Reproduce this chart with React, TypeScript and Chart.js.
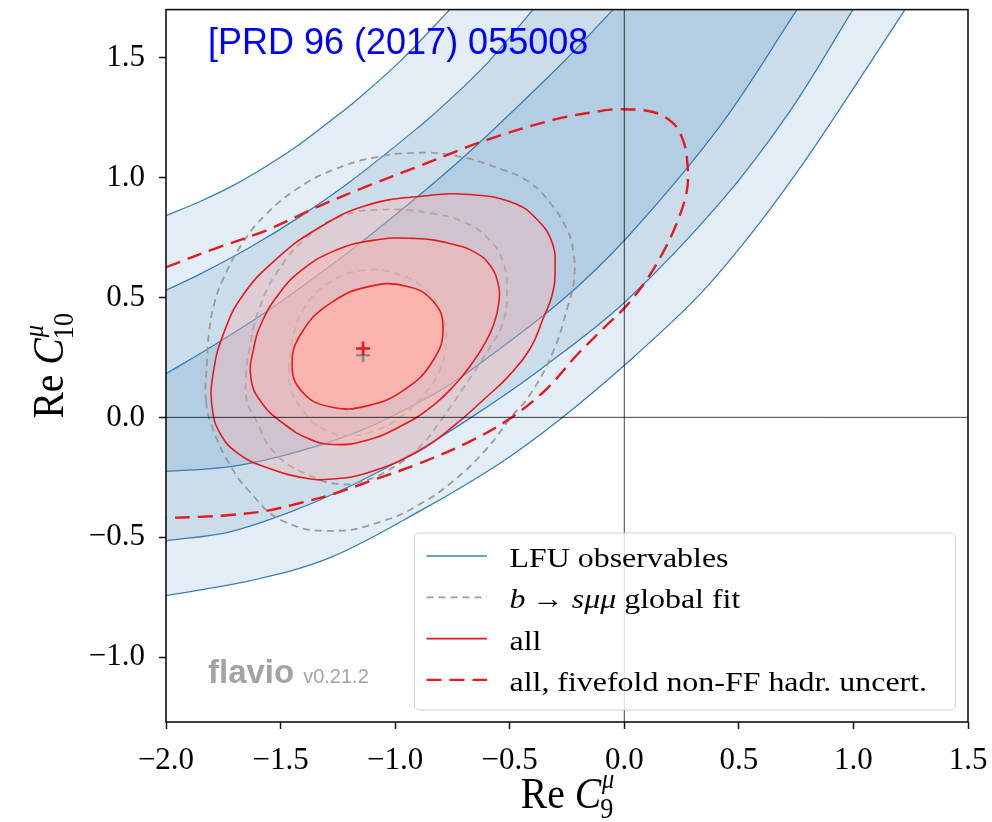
import React, { useEffect, useRef } from "react";
import { Chart, registerables } from "chart.js";

Chart.register(...registerables);

// ---- axes ----
const X_RANGE = [-2.0, 1.5];
const Y_RANGE = [-1.27, 1.7];
const xTicks = [-2.0, -1.5, -1.0, -0.5, 0.0, 0.5, 1.0, 1.5];
const yTicks = [-1.0, -0.5, 0.0, 0.5, 1.0, 1.5];

// ---- LFU observables: 1σ / 2σ / 3σ band edges (Re C9, Re C10) ----
const lfu1Upper = [[-2.0, 0.182], [-1.782, 0.306], [-1.564, 0.439], [-1.345, 0.588], [-1.127, 0.746], [-0.891, 0.929], [-0.691, 1.094], [-0.473, 1.289], [-0.254, 1.493], [-0.049, 1.7]];
const lfu2Upper = [[-2.0, 0.53], [-1.852, 0.597], [-1.633, 0.709], [-1.415, 0.837], [-1.197, 0.982], [-0.891, 1.215], [-0.778, 1.31], [-0.599, 1.476], [-0.398, 1.7]];
const lfu3Upper = [[-2.0, 0.841], [-1.852, 0.9], [-1.708, 0.966], [-1.559, 1.049], [-1.415, 1.14], [-1.284, 1.235], [-1.153, 1.335], [-0.979, 1.484], [-0.761, 1.7]];
const lfu1Lower = [[-2.0, -0.225], [-1.708, -0.204], [-1.42, -0.142], [-1.127, -0.046], [-0.835, 0.095], [-0.691, 0.182], [-0.281, 0.481], [0.012, 0.75], [0.418, 1.215], [0.754, 1.7]];
const lfu2Lower = [[-2.0, -0.515], [-1.721, -0.477], [-1.459, -0.395], [-1.197, -0.287], [-0.891, -0.133], [-0.63, 0.024], [-0.368, 0.199], [0.003, 0.481], [0.418, 0.895], [0.723, 1.277], [0.998, 1.7]];
const lfu3Lower = [[-2.0, -0.743], [-1.633, -0.681], [-1.284, -0.585], [-0.891, -0.39], [-0.542, -0.191], [-0.281, -0.009], [0.003, 0.219], [0.317, 0.5], [0.549, 0.76], [0.767, 1.04], [0.985, 1.35], [1.225, 1.7]];

// ---- b -> s mu mu global fit: 1σ / 2σ / 3σ contours ----
const globalInner = [[-1.463, 0.199], [-1.446, 0.335], [-1.389, 0.468], [-1.284, 0.564], [-1.14, 0.613], [-0.988, 0.597], [-0.865, 0.53], [-0.796, 0.427], [-0.778, 0.315], [-0.804, 0.199], [-0.874, 0.095], [-0.97, 0.008], [-1.084, -0.054], [-1.206, -0.075], [-1.319, -0.046], [-1.406, 0.033], [-1.454, 0.116]];
const globalMiddle = [[-1.647, 0.066], [-1.651, 0.17], [-1.638, 0.273], [-1.594, 0.452], [-1.507, 0.617], [-1.376, 0.758], [-1.228, 0.841], [-1.053, 0.866], [-0.865, 0.854], [-0.695, 0.812], [-0.586, 0.738], [-0.529, 0.647], [-0.512, 0.534], [-0.529, 0.398], [-0.599, 0.273], [-0.704, 0.12], [-0.791, 0.0], [-0.891, -0.121], [-1.022, -0.216], [-1.153, -0.27], [-1.245, -0.278], [-1.345, -0.254], [-1.52, -0.154], [-1.62, 0.012]];
const globalOuter = [[-1.825, 0.066], [-1.821, 0.232], [-1.812, 0.356], [-1.791, 0.468], [-1.751, 0.576], [-1.664, 0.729], [-1.564, 0.846], [-1.42, 0.958], [-1.271, 1.032], [-1.097, 1.082], [-0.909, 1.103], [-0.734, 1.09], [-0.529, 1.032], [-0.411, 0.978], [-0.324, 0.895], [-0.25, 0.783], [-0.224, 0.7], [-0.219, 0.576], [-0.25, 0.452], [-0.311, 0.273], [-0.411, 0.095], [-0.499, -0.005], [-0.599, -0.129], [-0.747, -0.266], [-0.891, -0.361], [-1.053, -0.432], [-1.271, -0.473], [-1.489, -0.432], [-1.638, -0.307], [-1.725, -0.191], [-1.791, -0.058]];

// ---- all observables: 1σ / 2σ / 3σ contours ----
const allInner = [[-0.791, 0.371], [-0.835, 0.236], [-0.956, 0.118], [-1.121, 0.048], [-1.285, 0.044], [-1.406, 0.107], [-1.45, 0.222], [-1.406, 0.356], [-1.285, 0.474], [-1.121, 0.544], [-0.956, 0.548], [-0.835, 0.485]];
const allMiddle = [[-1.629, 0.161], [-1.616, 0.294], [-1.577, 0.406], [-1.511, 0.51], [-1.42, 0.605], [-1.271, 0.692], [-1.097, 0.738], [-0.913, 0.746], [-0.761, 0.725], [-0.651, 0.688], [-0.586, 0.634], [-0.551, 0.559], [-0.547, 0.481], [-0.569, 0.389], [-0.612, 0.302], [-0.669, 0.219], [-0.739, 0.136], [-0.835, 0.049], [-0.97, -0.034], [-1.127, -0.096], [-1.271, -0.113], [-1.38, -0.088], [-1.481, -0.03], [-1.577, 0.054]];
const allOuter = [[-1.799, 0.045], [-1.795, 0.178], [-1.751, 0.344], [-1.664, 0.51], [-1.52, 0.659], [-1.345, 0.783], [-1.127, 0.883], [-0.865, 0.924], [-0.673, 0.929], [-0.486, 0.895], [-0.381, 0.825], [-0.315, 0.729], [-0.302, 0.617], [-0.315, 0.51], [-0.355, 0.41], [-0.411, 0.286], [-0.507, 0.17], [-0.599, 0.087], [-0.747, -0.038], [-0.9, -0.142], [-1.127, -0.233], [-1.289, -0.258], [-1.389, -0.254], [-1.564, -0.208], [-1.686, -0.15], [-1.764, -0.067]];

// ---- all observables, fivefold non-FF hadronic uncertainty: 1σ contour ----
const allFivefold = [[-2.0, 0.626], [-1.782, 0.705], [-1.564, 0.779], [-1.345, 0.875], [-1.127, 0.962], [-0.891, 1.049], [-0.599, 1.157], [-0.311, 1.24], [-0.106, 1.277], [-0.019, 1.285], [0.125, 1.273], [0.213, 1.227], [0.256, 1.157], [0.274, 1.074], [0.274, 0.949], [0.23, 0.812], [0.169, 0.688], [0.099, 0.576], [0.012, 0.468], [-0.093, 0.369], [-0.206, 0.261], [-0.337, 0.12], [-0.499, -0.005], [-0.673, -0.1], [-0.891, -0.191], [-1.11, -0.266], [-1.271, -0.32], [-1.415, -0.357], [-1.564, -0.39], [-1.721, -0.407], [-1.856, -0.415], [-2.0, -0.419]];

// ---- best-fit points ----
const bestFitAll = [[-1.14, 0.287]];
const bestFitGlobal = [[-1.14, 0.259]];

// ---- legend ----
const legendLabels = ["LFU observables", "b → sμμ global fit", "all", "all, fivefold non-FF hadr. uncert."];

const BLUE = "#377eb8";
const RED = "#e41a1c";
const GREY = "#9b9b9b";
const blueFill = (a: number) => `rgba(179,205,227,${a})`;
const redFill = (a: number) => `rgba(251,180,174,${a})`;
const CLEAR = "rgba(0,0,0,0)";
const SERIF = '"Liberation Serif", "Times New Roman", serif';
const SANS = '"Liberation Sans", Arial, sans-serif';
const EDGE_TENSION = 0.35;
const LOOP_TENSION = 0.45;

const pts = (a: number[][]) => a.map(([x, y]) => ({ x, y }));
// closed contour: one extra point on each side so the seam is as smooth as the rest
const wrap = (a: number[][]) => pts([a[a.length - 1], ...a, a[0], a[1]]);
// band between two edges; end points doubled so the outline follows each edge curve exactly
const bandShape = (upper: number[][], lower: number[][]) =>
  pts([...upper, upper[upper.length - 1], lower[lower.length - 1], ...lower.slice().reverse()]);

const fmt = (v: number) => (v < 0 ? "\u2212" : "") + Math.abs(v).toFixed(1);

const area = (data: any[], color: string, tension: number) => ({
  data, showLine: true, fill: "shape", backgroundColor: color, borderColor: CLEAR,
  borderWidth: 1, tension, capBezierPoints: false, pointRadius: 0, pointHoverRadius: 0,
});
const curve = (data: any[], color: string, width: number, dash: number[] = [], tension = EDGE_TENSION) => ({
  data, showLine: true, fill: false, borderColor: color, borderWidth: width, borderDash: dash,
  tension, capBezierPoints: false, pointRadius: 0, pointHoverRadius: 0,
});
const ring = (a: number[][], color: string, width: number, dash: number[] = []) => {
  const data = wrap(a);
  const last = data.length - 1;
  return {
    ...curve(data, color, width, dash, LOOP_TENSION),
    segment: {
      borderColor: (c: any) => (c.p0DataIndex === 0 || c.p1DataIndex === last ? CLEAR : undefined),
    },
  };
};
const marker = (data: any[], color: string) => ({
  data, showLine: false, pointStyle: "cross", pointRadius: 7, pointBorderWidth: 2.6,
  pointBorderColor: color, pointBackgroundColor: color, pointHoverRadius: 7,
});

type Run = { t: string; f: string; dx?: number; dy?: number; stay?: boolean };

function runsWidth(ctx: CanvasRenderingContext2D, runs: Run[]) {
  let w = 0;
  for (const r of runs) {
    ctx.font = r.f;
    if (!r.stay) w += ctx.measureText(r.t).width + (r.dx || 0);
  }
  return w;
}

function drawRuns(ctx: CanvasRenderingContext2D, runs: Run[], x: number, y: number, sx: number) {
  ctx.save();
  ctx.translate(x, y);
  ctx.scale(sx, 1);
  let cx = 0;
  for (const r of runs) {
    ctx.font = r.f;
    const px = cx + (r.dx || 0);
    ctx.fillText(r.t, px, r.dy || 0);
    if (!r.stay) cx = px + ctx.measureText(r.t).width;
  }
  ctx.restore();
}

const axisTitle = (sub: string): Run[] => [
  { t: "Re", f: `44px ${SERIF}` },
  { t: " ", f: `44px ${SERIF}` },
  { t: "C", f: `italic 44px ${SERIF}` },
  { t: "μ", f: `italic 27px ${SERIF}`, dx: 1, dy: -20, stay: true },
  { t: sub, f: `29px ${SERIF}`, dx: -1, dy: 10 },
];

const LEG_SIZE = 28;
const legendRuns: Run[][] = [
  [{ t: legendLabels[0], f: `${LEG_SIZE}px ${SERIF}` }],
  [
    { t: "b", f: `italic ${LEG_SIZE}px ${SERIF}` },
    { t: "\u2009→ ", f: `${LEG_SIZE}px ${SERIF}` },
    { t: "sμμ", f: `italic ${LEG_SIZE}px ${SERIF}` },
    { t: " global fit", f: `${LEG_SIZE}px ${SERIF}` },
  ],
  [{ t: legendLabels[2], f: `${LEG_SIZE}px ${SERIF}` }],
  [{ t: legendLabels[3], f: `${LEG_SIZE}px ${SERIF}` }],
];
const legendHandles = [
  { color: BLUE, width: 1.4, dash: [] as number[] },
  { color: GREY, width: 1.8, dash: [7, 5] },
  { color: RED, width: 1.6, dash: [] as number[] },
  { color: RED, width: 2.4, dash: [15, 8] },
];

const decorations = {
  id: "decorations",
  afterDraw(chart: any) {
    const { ctx, chartArea: a } = chart;
    ctx.save();

    // plot frame
    ctx.strokeStyle = "#111";
    ctx.lineWidth = 1.6;
    ctx.strokeRect(a.left, a.top, a.right - a.left, a.bottom - a.top);

    // reference tag
    ctx.fillStyle = "#0000ff";
    ctx.font = `36px ${SANS}`;
    ctx.textBaseline = "alphabetic";
    ctx.textAlign = "left";
    ctx.fillText("[PRD 96 (2017) 055008", a.left + 42, a.top + 44);

    // flavio tag
    ctx.fillStyle = "#a3a3a3";
    ctx.font = `bold 33px ${SANS}`;
    const fx = a.left + 42;
    const fy = a.bottom - 39;
    ctx.fillText("flavio", fx, fy);
    const fw = ctx.measureText("flavio").width;
    ctx.font = `20px ${SANS}`;
    ctx.fillText("v0.21.2", fx + fw + 9, fy);

    // axis titles
    ctx.fillStyle = "#000";
    const sx = 0.9;
    const xr = axisTitle("9");
    const xw = runsWidth(ctx, xr) * sx;
    drawRuns(ctx, xr, (a.left + a.right) / 2 - xw / 2, a.bottom + 86, sx);
    const yr = axisTitle("10");
    const yw = runsWidth(ctx, yr) * sx;
    ctx.save();
    ctx.translate(a.left - 103, (a.top + a.bottom) / 2);
    ctx.rotate(-Math.PI / 2);
    drawRuns(ctx, yr, -yw / 2, 0, sx);
    ctx.restore();

    // legend
    const lw = 541;
    const lh = 177;
    const lx = a.right - 12.5 - lw;
    const ly = a.bottom - 12 - lh;
    ctx.beginPath();
    ctx.roundRect(lx, ly, lw, lh, 5);
    ctx.fillStyle = "rgba(255,255,255,0.8)";
    ctx.fill();
    ctx.strokeStyle = "rgba(204,204,204,0.9)";
    ctx.lineWidth = 1;
    ctx.stroke();
    legendRuns.forEach((runs, i) => {
      const base = ly + 34 + i * 41.3;
      const h = legendHandles[i];
      ctx.beginPath();
      ctx.setLineDash(h.dash);
      ctx.strokeStyle = h.color;
      ctx.lineWidth = h.width;
      ctx.moveTo(lx + 12, base - 11);
      ctx.lineTo(lx + 72.5, base - 11);
      ctx.stroke();
      ctx.setLineDash([]);
      ctx.fillStyle = "#000";
      drawRuns(ctx, runs, lx + 95, base, 1.14);
    });

    ctx.restore();
  },
};

export default function App() {
  const ref = useRef<HTMLCanvasElement>(null);

  useEffect(() => {
    const datasets: any[] = [
      // LFU bands (3σ, 2σ, 1σ) and their edges
      area(bandShape(lfu3Upper, lfu3Lower), blueFill(0.37), EDGE_TENSION),
      area(bandShape(lfu2Upper, lfu2Lower), blueFill(0.492), EDGE_TENSION),
      area(bandShape(lfu1Upper, lfu1Lower), blueFill(1), EDGE_TENSION),
      curve(pts(lfu3Upper), BLUE, 1.25),
      curve(pts(lfu2Upper), BLUE, 1.25),
      curve(pts(lfu1Upper), BLUE, 1.25),
      curve(pts(lfu1Lower), BLUE, 1.25),
      curve(pts(lfu2Lower), BLUE, 1.25),
      curve(pts(lfu3Lower), BLUE, 1.25),
      // global fit contours
      ring(globalOuter, GREY, 1.8, [7, 5]),
      ring(globalMiddle, GREY, 1.8, [7, 5]),
      ring(globalInner, GREY, 1.8, [7, 5]),
      // all observables: filled regions, then contour lines
      area(wrap(allOuter), redFill(0.37), LOOP_TENSION),
      ring(allOuter, RED, 1.6),
      area(wrap(allMiddle), redFill(0.492), LOOP_TENSION),
      ring(allMiddle, RED, 1.6),
      area(wrap(allInner), redFill(1), LOOP_TENSION),
      ring(allInner, RED, 1.6),
      // fivefold hadronic uncertainty
      curve(pts(allFivefold), RED, 2.4, [15, 8]),
      // zero lines
      curve(pts([[X_RANGE[0], 0], [X_RANGE[1], 0]]), "rgba(0,0,0,0.75)", 1, [], 0),
      curve(pts([[0, Y_RANGE[0]], [0, Y_RANGE[1]]]), "rgba(0,0,0,0.75)", 1, [], 0),
      // best-fit points
      marker(pts(bestFitGlobal), "#8c8c8c"),
      marker(pts(bestFitAll), RED),
    ];
    datasets.forEach((d, i) => (d.order = datasets.length - i));

    const tickFont = { family: SERIF, size: 31 };
    const chart = new Chart(ref.current as HTMLCanvasElement, {
      type: "scatter",
      data: { datasets },
      options: {
        animation: false,
        responsive: false,
        events: [],
        layout: { padding: { left: 0, right: 24, top: 6, bottom: 0 } },
        plugins: { legend: { display: false }, tooltip: { enabled: false } },
        scales: {
          x: {
            type: "linear",
            min: X_RANGE[0],
            max: X_RANGE[1],
            afterBuildTicks: (axis: any) => {
              axis.ticks = xTicks.map((value) => ({ value }));
            },
            afterFit: (s: any) => {
              s.height = 100;
              s.paddingLeft = 0;
              s.paddingRight = 0;
            },
            grid: { drawOnChartArea: false, drawTicks: true, tickLength: 7, tickWidth: 1.5, tickColor: "#111" },
            border: { display: false },
            ticks: { font: tickFont, color: "#000", padding: 13, maxRotation: 0, autoSkip: false, callback: (v: any) => fmt(Number(v)) },
          },
          y: {
            type: "linear",
            min: Y_RANGE[0],
            max: Y_RANGE[1],
            afterBuildTicks: (axis: any) => {
              axis.ticks = yTicks.map((value) => ({ value }));
            },
            afterFit: (s: any) => {
              s.width = 166;
              s.paddingTop = 0;
              s.paddingBottom = 0;
            },
            grid: { drawOnChartArea: false, drawTicks: true, tickLength: 7, tickWidth: 1.5, tickColor: "#111" },
            border: { display: false },
            ticks: { font: tickFont, color: "#000", padding: 14, autoSkip: false, callback: (v: any) => fmt(Number(v)) },
          },
        },
      },
      plugins: [decorations],
    } as any);
    return () => chart.destroy();
  }, []);

  return (
    <div style={{ position: "absolute", left: 0, top: 0, width: 992, height: 822, background: "#fff" }}>
      <canvas ref={ref} width={992} height={822} style={{ display: "block" }} />
    </div>
  );
}
